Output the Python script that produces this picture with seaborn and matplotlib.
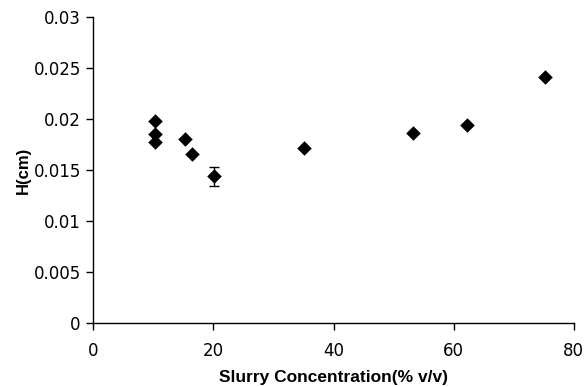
import matplotlib
matplotlib.use("Agg")
import matplotlib.pyplot as plt
import seaborn as sns
import pandas as pd
import numpy as np

conc = [10.3, 10.2, 10.2, 15.2, 16.4, 20.1, 35.1, 53.3, 62.3, 75.2]
height = [0.0198, 0.0185, 0.0177, 0.0180, 0.0166, 0.0144, 0.0172, 0.0186, 0.0194, 0.0241]
err_x = [20.1]
err_y = [0.0144]
err = [0.00093]

xticks = [0, 20, 40, 60, 80]
yticks = [0, 0.005, 0.01, 0.015, 0.02, 0.025, 0.03]
ytick_labels = ["0", "0.005", "0.01", "0.015", "0.02", "0.025", "0.03"]

sns.set_style("ticks")
plt.rcParams["font.family"] = ["Liberation Sans", "DejaVu Sans"]

fig = plt.figure(figsize=(5.85, 3.87), dpi=100)
ax = fig.add_axes([0.1595, 0.1654, 0.9807 - 0.1595, 0.956 - 0.1654])

df = pd.DataFrame({"x": conc, "y": height})
ax.errorbar(err_x, err_y, yerr=err, fmt="none", ecolor="black", elinewidth=1.0,
            capsize=3.5, capthick=1.0, zorder=2)
sns.scatterplot(data=df, x="x", y="y", marker="D", color="black", s=55,
                edgecolor="black", linewidth=0, ax=ax, zorder=3)

ax.set_xlim(0, 80)
ax.set_ylim(0, 0.03)
ax.set_xticks(xticks)
ax.set_xticklabels([str(t) for t in xticks])
ax.set_yticks(yticks)
ax.set_yticklabels(ytick_labels)
ax.tick_params(axis="both", length=5, width=1, color="black",
               labelcolor="black", direction="out")
ax.tick_params(axis="x", pad=9)
ax.tick_params(axis="y", pad=4)
for lab in ax.get_xticklabels() + ax.get_yticklabels():
    lab.set_fontfamily("DejaVu Sans")
    lab.set_fontsize(12)
ax.set_xlabel("Slurry Concentration(% v/v)", fontsize=12.5, fontweight="bold",
              labelpad=7, color="black")
ax.set_ylabel("H(cm)", fontsize=12, fontweight="bold", labelpad=1.5, color="black")
for s in ["left", "bottom"]:
    ax.spines[s].set_color("black")
    ax.spines[s].set_linewidth(1)
sns.despine(ax=ax)

fig.savefig("out.png", dpi=100)
